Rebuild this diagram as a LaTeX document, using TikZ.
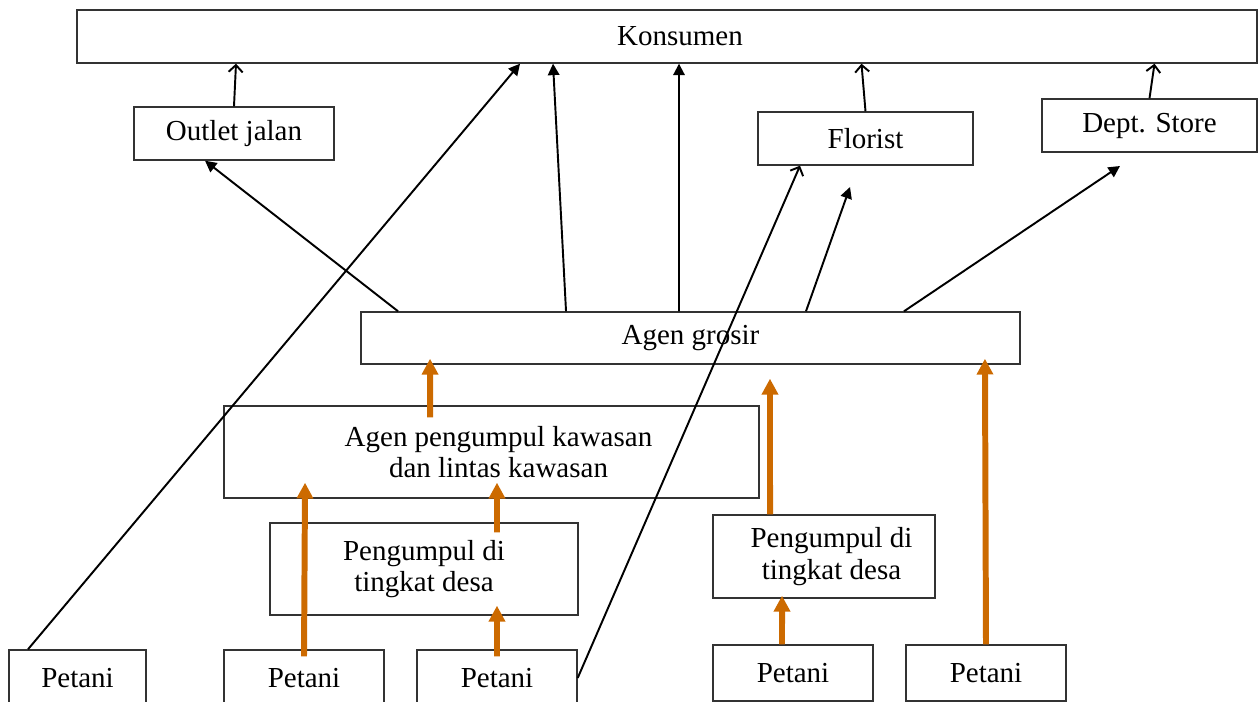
\documentclass[tikz,border=0pt]{standalone}
\usepackage{fontspec}
\setmainfont{Liberation Serif}
\usetikzlibrary{arrows.meta}
\definecolor{oranye}{RGB}{204,106,0}
\tikzset{
	kotak/.style={draw=black!80, line width=0.8pt, inner sep=0pt, minimum height=1.06cm, align=center, font=\fontsize{16.5}{18}\selectfont},
	panah/.style={line width=1.1pt, -{Triangle[length=6.5pt,width=6.5pt]}},
	panahbuka/.style={line width=1.1pt, -{Straight Barb[length=4pt,width=8pt]}},
	alir/.style={draw=oranye, line width=3.4pt, -{Triangle[length=9pt,width=9pt]}}
}
\begin{document}
\begin{tikzpicture}[x=0.02cm,y=-0.02cm]
		\useasboundingbox (0,0) rectangle (1258,702);
		\clip (0,0) rectangle (1258,702);
		
		% kotak
		\node[kotak, minimum width=23.6cm] (konsumen) at (667,36.5) {\hspace{0.52cm}Konsumen};
		\node[kotak, minimum width=4cm] (outlet) at (234,133.5) {Outlet jalan};
		\node[kotak, minimum width=4.3cm] (florist) at (865.5,138.5) {Florist};
		\node[kotak, minimum width=4.3cm] (dept) at (1149.5,125.5) {Dept. Store};
		\node[kotak, minimum width=13.18cm, minimum height=1.04cm] (grosir) at (690.5,338) {Agen grosir};
		\node[kotak, minimum width=10.7cm, minimum height=1.84cm] (kawasan) at (491.5,452) {\hspace{0.28cm}Agen pengumpul kawasan\\ \hspace{0.28cm}dan lintas kawasan};
		\node[kotak, minimum width=6.16cm, minimum height=1.84cm] (desaA) at (424,569) {Pengumpul di\\ tingkat desa};
		\node[kotak, minimum width=4.44cm, minimum height=1.66cm] (desaB) at (824,556.5) {\hspace{0.3cm}Pengumpul di\\ \hspace{0.3cm}tingkat desa};
		\node[kotak, minimum width=2.74cm, minimum height=1.12cm] (petaniA) at (77.5,678) {Petani};
		\node[kotak, minimum width=3.2cm, minimum height=1.12cm] (petaniB) at (304,678) {Petani};
		\node[kotak, minimum width=3.2cm, minimum height=1.12cm] (petaniC) at (497,678) {Petani};
		\node[kotak, minimum width=3.2cm, minimum height=1.12cm] (petaniD) at (793,673) {Petani};
		\node[kotak, minimum width=3.2cm, minimum height=1.12cm] (petaniE) at (986,673) {Petani};
		
		\coordinate (ujungF) at (850,187);
		\coordinate (ujungD) at (1120,166);
		
		% panah hitam
		\draw[panahbuka] (outlet.north) -- ([xshift=0.04cm]outlet.north |- konsumen.south);
		\draw[panahbuka] (florist.north) -- ([xshift=-0.08cm]florist.north |- konsumen.south);
		\draw[panahbuka] (dept.north) -- ([xshift=0.1cm]dept.north |- konsumen.south);
		\draw[panahbuka] (petaniC.east) -- ([xshift=-1.31cm]florist.south);
		\draw[panah] ([xshift=-5.85cm]grosir.north) -- ([xshift=-0.58cm]outlet.south);
		\draw[panah] ([xshift=-0.99cm]petaniA.north) -- ([xshift=-2.94cm]konsumen.south);
		\draw[panah] ([xshift=-2.49cm]grosir.north) -- ([xshift=-2.28cm]konsumen.south);
		\draw[panah] ([xshift=-0.23cm]grosir.north) -- ([xshift=0.24cm]konsumen.south);
		\draw[panah] ([xshift=2.31cm]grosir.north) -- (ujungF);
		\draw[panah] ([xshift=4.27cm]grosir.north) -- (ujungD);
		
		% panah oranye
		\draw[alir] ([xshift=-1.23cm,yshift=-0.24cm]kawasan.north) -- ([xshift=-5.21cm,yshift=0.12cm]grosir.south);
		\draw[alir] ([yshift=-0.14cm]petaniB.north) -- ([xshift=-3.73cm,yshift=0.32cm]kawasan.south);
		\draw[alir] ([xshift=1.46cm,yshift=-0.2cm]desaA.north) -- ([xshift=0.11cm,yshift=0.32cm]kawasan.south);
		\draw[alir] ([yshift=-0.14cm]petaniC.north) -- ([xshift=1.46cm,yshift=0.2cm]desaA.south);
		\draw[alir] ([xshift=-1.08cm]desaB.north) -- ([xshift=1.59cm,yshift=-0.28cm]grosir.south);
		\draw[alir] ([xshift=-0.22cm]petaniD.north) -- ([xshift=-0.84cm,yshift=0.06cm]desaB.south);
		\draw[alir] (petaniE.north) -- ([xshift=5.89cm,yshift=0.12cm]grosir.south);
		
	\end{tikzpicture}
\end{document}
